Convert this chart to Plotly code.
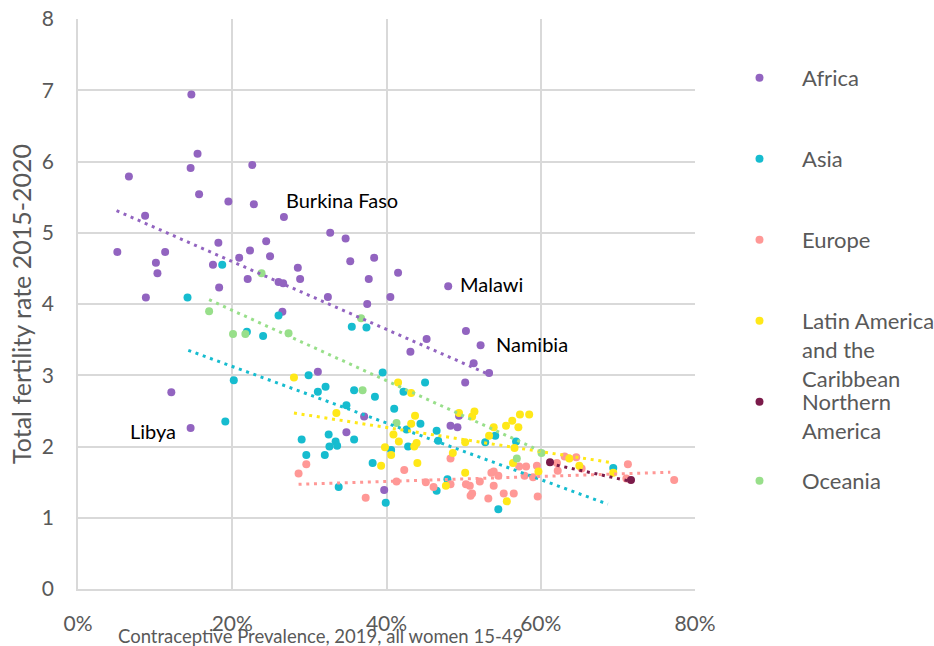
import plotly.graph_objects as go

# ---------------- data (x = contraceptive prevalence %, y = total fertility rate) -------------
africa_x = [5.1, 6.6, 8.7, 8.8, 10.1, 10.3, 11.3, 12.1, 14.7, 14.6, 15.5, 15.7, 14.6, 17.5, 18.2,
            18.3, 19.5, 20.9, 22.3, 22.6, 22.8, 22.0, 24.4, 24.9, 26.0, 26.6, 26.7, 26.5, 28.5, 28.8,
            31.1, 32.4, 32.7, 34.7, 35.3, 38.4, 37.7, 37.5, 41.5, 40.5, 48.0, 43.1, 45.2, 50.3, 52.2,
            51.3, 53.3, 50.2, 37.1, 34.8, 48.3, 49.2, 39.7, 49.4]
africa_y = [4.73, 5.79, 5.24, 4.09, 4.58, 4.43, 4.73, 2.76, 6.94, 5.91, 6.11, 5.54, 2.26, 4.55, 4.86,
            4.23, 5.44, 4.65, 4.75, 5.95, 5.40, 4.35, 4.88, 4.67, 4.31, 4.29, 5.22, 3.89, 4.51, 4.35,
            3.05, 4.10, 5.00, 4.92, 4.60, 4.65, 4.35, 4.00, 4.44, 4.10, 4.25, 3.33, 3.51, 3.62, 3.42,
            3.17, 3.03, 2.90, 2.42, 2.20, 2.29, 2.27, 1.39, 2.43]

asia_x = [14.2, 18.7, 19.1, 20.2, 21.9, 24.0, 26.0, 29.0, 29.6, 29.9, 31.1, 32.1, 32.5, 32.6, 32.0,
          33.4, 33.6, 33.8, 34.8, 35.5, 35.8, 35.8, 37.4, 38.2, 38.5, 39.5, 39.9, 40.6, 41.0, 42.2,
          42.6, 42.8, 44.4, 45.0, 46.5, 46.5, 46.7, 47.9, 52.8, 54.1, 54.5, 56.8, 69.4]
asia_y = [4.09, 4.55, 2.35, 2.93, 3.61, 3.55, 3.84, 2.10, 1.88, 3.00, 2.77, 2.84, 2.17, 2.00, 1.88,
          2.07, 2.01, 1.43, 2.58, 3.68, 2.79, 2.10, 3.67, 1.77, 2.70, 3.04, 1.21, 1.95, 2.53, 2.77,
          2.24, 2.00, 2.32, 2.90, 2.22, 1.38, 2.08, 1.54, 2.06, 2.15, 1.12, 2.07, 1.70]

europe_x = [28.6, 29.6, 37.3, 41.3, 42.3, 45.1, 46.1, 48.3, 48.3, 50.3, 50.8, 50.9, 51.1, 52.1, 53.2,
            53.6, 53.9, 53.9, 54.5, 55.2, 56.5, 57.2, 57.9, 58.1, 59.0, 59.5, 59.6, 62.1, 62.2, 63.1,
            64.6, 65.3, 71.1, 71.3, 77.3]
europe_y = [1.62, 1.75, 1.28, 1.51, 1.67, 1.50, 1.43, 1.83, 1.47, 1.47, 1.45, 1.31, 1.34, 1.51, 1.27,
            1.63, 1.65, 1.45, 1.59, 1.34, 1.34, 1.72, 1.59, 1.72, 1.57, 1.73, 1.30, 1.77, 1.66, 1.86,
            1.85, 1.69, 1.55, 1.75, 1.53]

latam_x = [28.0, 33.5, 39.3, 39.8, 40.6, 40.9, 41.5, 41.6, 43.2, 43.2, 43.6, 43.7, 43.9, 44.0, 47.7,
           48.6, 49.4, 50.2, 50.2, 51.1, 51.4, 53.3, 53.9, 55.5, 55.6, 56.3, 56.4, 56.6, 57.1, 57.3,
           58.5, 59.7, 63.7, 65.0, 69.4]
latam_y = [2.97, 2.47, 1.73, 1.99, 1.88, 2.17, 2.90, 2.07, 2.75, 2.32, 2.00, 2.43, 2.05, 1.77, 1.45,
           1.91, 2.47, 2.06, 1.63, 2.42, 2.49, 2.15, 2.27, 2.29, 1.23, 2.36, 1.77, 1.98, 2.27, 2.45,
           2.45, 1.65, 1.83, 1.73, 1.63]

namerica_x = [61.2, 71.7]
namerica_y = [1.78, 1.53]

oceania_x = [17.0, 20.1, 21.7, 23.8, 27.3, 36.7, 36.9, 41.3, 56.9, 60.1]
oceania_y = [3.90, 3.58, 3.58, 4.43, 3.59, 3.80, 2.79, 2.33, 1.83, 1.91]

# linear trend lines (start and end points)
trend_africa_x = [5.0, 53.3]
trend_africa_y = [5.31, 3.01]
trend_asia_x = [14.3, 68.7]
trend_asia_y = [3.35, 1.19]
trend_europe_x = [28.6, 76.8]
trend_europe_y = [1.47, 1.64]
trend_latam_x = [28.0, 69.4]
trend_latam_y = [2.47, 1.77]
trend_namerica_x = [61.1, 71.7]
trend_namerica_y = [1.76, 1.51]
trend_oceania_x = [17.0, 59.9]
trend_oceania_y = [4.06, 1.94]

series_names = ["Africa", "Asia", "Europe", "Latin America<br>and the<br>Caribbean",
                "Northern<br>America", "Oceania"]

labels_text = ["Burkina Faso", "Malawi", "Namibia", "Libya"]
labels_x = [26.7, 48.0, 52.2, 14.6]
labels_y = [5.22, 4.25, 3.42, 2.26]

x_ticks = [0, 20, 40, 60, 80]
x_tick_labels = ["0%", "20%", "40%", "60%", "80%"]
y_ticks = [0, 1, 2, 3, 4, 5, 6, 7, 8]

# ---------------- styling -------------
FONT = "Lato"
GREY = "#595959"
colors = ["#9264C0", "#16BCCF", "#FF9896", "#FFE818", "#7B1B4A", "#98DF8A"]

points = [(africa_x, africa_y), (asia_x, asia_y), (europe_x, europe_y), (latam_x, latam_y),
          (namerica_x, namerica_y), (oceania_x, oceania_y)]
trends = [(trend_africa_x, trend_africa_y), (trend_asia_x, trend_asia_y),
          (trend_europe_x, trend_europe_y), (trend_latam_x, trend_latam_y),
          (trend_namerica_x, trend_namerica_y), (trend_oceania_x, trend_oceania_y)]

legend_ids = ["legend", "legend2", "legend3", "legend4", "legend5", "legend6"]
legend_marker_py = [78, 159, 240, 321, 402, 481]  # pixel rows of legend symbols

fig = go.Figure()
for i, ((xs, ys), name) in enumerate(zip(points, series_names)):
    fig.add_trace(go.Scatter(
        x=xs, y=ys, mode="markers", name=name, legend=legend_ids[i],
        marker=dict(size=8, color=colors[i], line=dict(width=0)),
        hoverinfo="skip"))
for i, (xs, ys) in enumerate(trends):
    fig.add_trace(go.Scatter(
        x=xs, y=ys, mode="lines", showlegend=False,
        line=dict(color=colors[i], width=3, dash="3px,4.7px"),
        hoverinfo="skip"))

# plot area geometry (pixels)
L, R, T, B = 78, 239, 19, 57
W = 934 - L - R
H = 646 - T - B

layout_legends = {}
for i, lid in enumerate(legend_ids):
    top_px = legend_marker_py[i] - 21
    layout_legends[lid] = dict(
        x=1 + 22 / W, xanchor="left", y=1 - (top_px - T) / H, yanchor="top",
        font=dict(family=FONT, size=22, color=GREY),
        bgcolor="rgba(0,0,0,0)", borderwidth=0, itemwidth=75, valign="top",
        tracegroupgap=0)

annotations = []
offsets = [(0, 17, "left"), (10, 2, "left"), (13, 1, "left"), (-13, -3, "right")]
for t, x, y, (dx, dy, anc) in zip(labels_text, labels_x, labels_y, offsets):
    annotations.append(dict(x=x, y=y, text=t, showarrow=False, xanchor=anc, yanchor="middle",
                            xshift=dx, yshift=dy, font=dict(family=FONT, size=20, color="#000000")))
annotations.append(dict(x=(320 - L) / W, y=-(636 - (646 - B)) / H, xref="paper",
                        yref="paper", text="Contraceptive Prevalence, 2019, all women 15-49",
                        showarrow=False, xanchor="center", yanchor="middle",
                        font=dict(family=FONT, size=18.5, color=GREY)))

fig.update_layout(
    width=934, height=646,
    margin=dict(l=L, r=R, t=T, b=B, pad=0, autoexpand=False),
    paper_bgcolor="white", plot_bgcolor="white",
    font=dict(family=FONT, color=GREY),
    showlegend=True,
    annotations=annotations,
    xaxis=dict(range=[0, 80], tickvals=x_ticks, ticktext=x_tick_labels, automargin=False,
               showgrid=True, gridcolor="#D9D9D9", gridwidth=1.5,
               zeroline=False, showline=True, linecolor="#D9D9D9", linewidth=1.5,
               ticks="outside", ticklen=15, tickcolor="rgba(0,0,0,0)",
               tickfont=dict(family=FONT, size=21, color=GREY), fixedrange=True),
    yaxis=dict(range=[0, 8], tickvals=y_ticks, automargin=False,
               showgrid=True, gridcolor="#D9D9D9", gridwidth=1.5,
               zeroline=False, showline=True, linecolor="#D9D9D9", linewidth=1.5,
               ticks="outside", ticklen=18, tickcolor="rgba(0,0,0,0)",
               tickfont=dict(family=FONT, size=21, color=GREY),
               title=dict(text="Total fertility rate 2015-2020", standoff=3,
                          font=dict(family=FONT, size=25, color=GREY)), fixedrange=True),
    **layout_legends,
)

fig.write_html("out.html", config={"displayModeBar": False},
               post_script="document.body.style.margin='0px';document.body.style.padding='0px';")
